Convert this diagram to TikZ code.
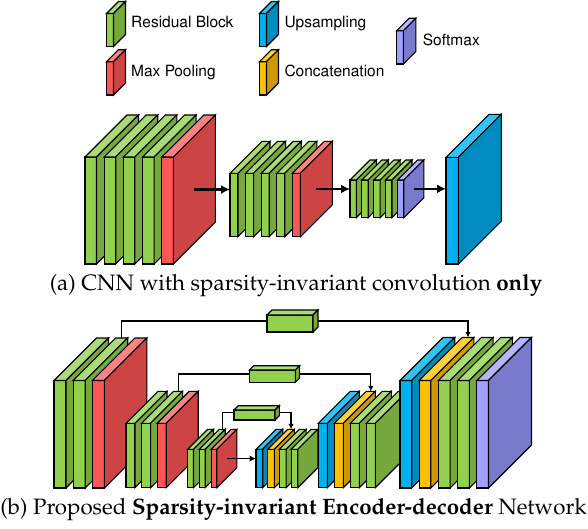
\documentclass[tikz,border=0pt]{standalone}
\usepackage[T1]{fontenc}
\usepackage{mathpazo}
\usepackage[scaled=1]{helvet}
\usetikzlibrary{arrows.meta}

\definecolor{res}{RGB}{146,208,80}
\definecolor{restop}{RGB}{170,220,118}
\definecolor{resside}{RGB}{118,168,62}
\definecolor{pool}{RGB}{255,85,85}
\definecolor{pooltop}{RGB}{255,130,130}
\definecolor{poolside}{RGB}{204,68,68}
\definecolor{up}{RGB}{0,176,240}
\definecolor{uptop}{RGB}{50,195,245}
\definecolor{upside}{RGB}{0,140,192}
\definecolor{cat}{RGB}{255,192,0}
\definecolor{cattop}{RGB}{255,210,60}
\definecolor{catside}{RGB}{204,153,0}
\definecolor{soft}{RGB}{160,160,255}
\definecolor{softtop}{RGB}{182,182,255}
\definecolor{softside}{RGB}{122,122,204}

\pgfdeclarelayer{background}
\pgfsetlayers{background,main}

\tikzset{
  slabfront/.style={draw, line width=1.1pt, inner sep=0pt, outer sep=0pt},
  slabface/.style={draw, line width=1.1pt},
  legendtext/.style={font=\sffamily\fontsize{15.5}{18}\selectfont, anchor=base west, inner sep=0pt},
  caption/.style={font=\fontsize{22.3}{26}\selectfont, anchor=base, inner sep=0pt},
  flow/.style={-{Latex[length=9pt,width=9pt]}, line width=2.2pt},
  flowb/.style={-{Latex[length=6.5pt,width=6.5pt]}, line width=1.5pt},
  skip/.style={line width=1.2pt},
  skiparrow/.style={skip, -{Latex[length=5.5pt,width=5.5pt]}}
}

% name, x, top, width, height, depth, colour
\newcommand{\slab}[7]{%
  \node[slabfront, fill=#7, minimum width=#4pt, minimum height=#5pt, anchor=north west] (#1) at (#2,#3) {};
  \filldraw[slabface, fill=#7top] (#1.north west) -- (#1.north east) -- ++(#6,-#6) -- ([shift={(#6,-#6)}]#1.north west) -- cycle;
  \filldraw[slabface, fill=#7side] (#1.north east) -- ++(#6,-#6) -- ([shift={(#6,-#6)}]#1.south east) -- (#1.south east) -- cycle;
  \coordinate (#1-side) at ([shift={(#6/2,-#6/2)}]#1.east);
  \coordinate (#1-back) at ([shift={(#6,-#6)}]#1.north);
}

\begin{document}
\begin{tikzpicture}[x=1pt, y=-1pt]
\useasboundingbox (0,0) rectangle (588,528);

% legend
\slab{lres}{106.5}{13.5}{7}{33}{12}{res}
\slab{lpool}{106.5}{61.7}{7}{33.3}{12}{pool}
\slab{lup}{259.5}{13.5}{7}{33}{12}{up}
\slab{lcat}{259.5}{61.7}{7}{33.3}{12}{cat}
\slab{lsoft}{396.7}{30.7}{6.7}{33.3}{12.5}{soft}
\node[legendtext] (tres) at (131,27.3) {Residual Block};
\node[legendtext] (tpool) at (131,76) {Max Pooling};
\node[legendtext] (tup) at (284.3,27.3) {Upsampling};
\node[legendtext] (tcat) at (284.3,76) {Concatenation};
\node[legendtext] (tsoft) at (422.7,45.7) {Softmax};

% (a)
\foreach \c [count=\i from 0] in {res,res,res,res,pool}
  {\slab{aa\i}{85+19.2*\i}{157}{11.5}{107}{42}{\c}}
\foreach \c [count=\i from 0] in {res,res,res,res,pool}
  {\slab{ab\i}{230+15.6*\i}{173.3}{8}{63.4}{32}{\c}}
\foreach \c [count=\i from 0] in {res,res,res,res,soft}
  {\slab{ac\i}{350+11.9*\i}{180}{6.3}{37.7}{20}{\c}}
\slab{ad}{446}{157.3}{12.3}{106.7}{43}{up}
\draw[flow] (aa4-side) -- (aa4-side -| ab0.west);
\draw[flow] (ab4-side) -- (ab4-side -| ac0.west);
\draw[flow] (ac4-side) -- (ac4-side -| ad.west);
\node[caption] (capa) at (296,290.5) {(a) CNN with sparsity-invariant convolution \textbf{only}};

% (b)
\foreach \c [count=\i from 0] in {res,res,pool}
  {\slab{ba\i}{54+19.2*\i}{380.5}{12}{107.5}{42.5}{\c}}
\foreach \c [count=\i from 0] in {res,res,pool}
  {\slab{bb\i}{126+15.6*\i}{423.3}{9}{64.4}{32}{\c}}
\foreach \c [count=\i from 0] in {res,res,pool}
  {\slab{bc\i}{187.7+11.7*\i}{449.3}{5.8}{38.4}{20}{\c}}
\foreach \c [count=\i from 0] in {up,cat,res,res}
  {\slab{bd\i}{256+11.7*\i}{449.3}{6.7}{38.4}{20}{\c}}
\foreach \c [count=\i from 0] in {up,cat,res,res}
  {\slab{be\i}{318.3+16*\i}{423.3}{9}{64.4}{32}{\c}}
\foreach \c [count=\i from 0] in {up,cat,res,res,soft}
  {\slab{bf\i}{400+19.2*\i}{380.5}{11.7}{107.5}{43}{\c}}
\draw[flowb] (bc2-side) -- (bc2-side -| bd0.west);

\slab{sa}{267}{315}{46}{17}{5}{res}
\slab{sb}{249.3}{370}{46}{12.3}{4.3}{res}
\slab{sc}{234}{410}{41}{10}{4.3}{res}
\begin{pgfonlayer}{background}
\draw[skip] (ba1-back) |- (sa-side);
\draw[skiparrow] (sa-side) -| (bf1-back);
\draw[skip] (bb1-back) |- (sb-side);
\draw[skiparrow] (sb-side) -| (be1-back);
\draw[skip] (bc1-back) |- (sc-side);
\draw[skiparrow] (sc-side) -| (bd1-back);
\end{pgfonlayer}
\node[caption] (capb) at (293.5,514.7) {(b) Proposed \textbf{Sparsity-invariant Encoder-decoder} Network};
\end{tikzpicture}
\end{document}
